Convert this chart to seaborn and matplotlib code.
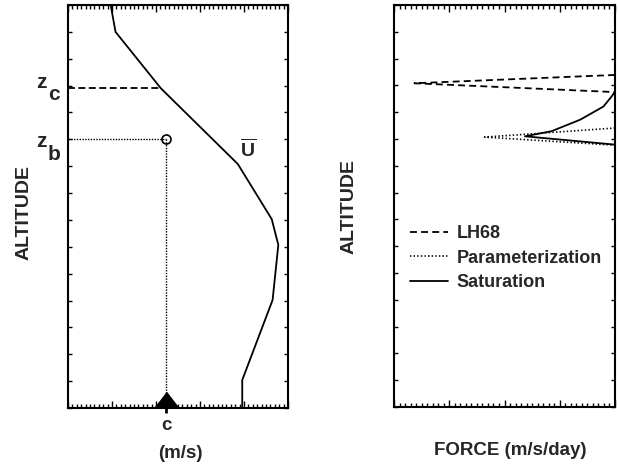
import matplotlib
matplotlib.use('Agg')
import matplotlib.pyplot as plt
from matplotlib.ticker import MultipleLocator
import seaborn as sns

# ---------------- data ----------------
# Left panel: mean wind profile U(z)
u_speed = [9.7, 10.8, 21.1, 38.6, 46.3, 47.8, 46.5, 39.6, 39.6]
u_alt = [15.0, 14.0, 11.9, 9.08, 7.03, 6.07, 4.02, 1.04, 0.0]
c_speed = 22.2      # phase speed c
z_c = 11.9          # critical level
z_b = 10.0          # breaking level
u_at_zc = 21.1

# Right panel: force profiles
lh68_force = [4.0, 0.37, 4.0]
lh68_alt = [12.39, 12.08, 11.75]
param_force = [4.0, 1.64, 4.0]
param_alt = [10.41, 10.07, 9.77]
sat_force = [4.0, 3.94, 3.79, 3.37, 2.85, 2.37, 4.0]
sat_alt = [11.77, 11.59, 11.21, 10.72, 10.29, 10.1, 9.79]
legend_labels = ["LH68", "Parameterization", "Saturation"]

# ---------------- style ----------------
sns.set_style("ticks")
plt.rcParams['font.family'] = ['Liberation Sans', 'DejaVu Sans']
plt.rcParams['mathtext.fontset'] = 'custom'
plt.rcParams['mathtext.bf'] = 'Liberation Sans:bold'
plt.rcParams['mathtext.rm'] = 'Liberation Sans:bold'
plt.rcParams['lines.scale_dashes'] = False

W, H = 618, 468
fig = plt.figure(figsize=(W / 100, H / 100), dpi=100)
fig.patch.set_facecolor('white')

axL = fig.add_axes([68 / W, (H - 408) / H, 220 / W, 403 / H])
axR = fig.add_axes([394 / W, (H - 407) / H, 221 / W, 402 / H])


def ftext(px, py, s, **kw):
    fig.text(px / W, 1 - py / H, s, **kw)


def style_axes(ax, xmajor, xminor):
    ax.set_ylim(0, 15)
    ax.xaxis.set_major_locator(MultipleLocator(xmajor))
    ax.xaxis.set_minor_locator(MultipleLocator(xminor))
    ax.yaxis.set_major_locator(MultipleLocator(1))
    ax.tick_params(axis='both', which='both', direction='in', top=True, right=True,
                   bottom=True, left=True, labelbottom=False, labelleft=False,
                   color='black', width=1.0)
    ax.tick_params(axis='x', which='major', length=5)
    ax.tick_params(axis='x', which='minor', length=2.8)
    ax.tick_params(axis='y', which='major', length=3)
    for sp in ax.spines.values():
        sp.set_visible(True)
        sp.set_color('black')
        sp.set_linewidth(1.5)
    ax.set_xlabel('')
    ax.set_ylabel('')


# ---------------- left panel ----------------
axL.set_xlim(0, 50)
sns.lineplot(x=u_speed, y=u_alt, sort=False, estimator=None, color='black',
             lw=1.3, ax=axL)
axL.plot([0, u_at_zc], [z_c, z_c], color='black', lw=1.3, linestyle=(0, (5, 2.5)))
axL.plot([0, c_speed], [z_b, z_b], color='black', lw=1.0, linestyle=(0, (1, 1)))
axL.plot([c_speed, c_speed], [z_b, 0], color='black', lw=1.0, linestyle=(0, (1, 1)))
axL.plot([c_speed], [z_b], marker='o', ms=6.5, mfc='none', mec='black', mew=1.2)
# arrow marker at c
axL.plot([c_speed], [0.32], marker=[(-1, -0.65), (1, -0.65), (0, 0.65)], ms=16,
         color='black', clip_on=False, zorder=5)
axL.plot([c_speed, c_speed], [0, -0.2], color='black', lw=2, clip_on=False,
         solid_capstyle='butt')
style_axes(axL, 10, 1)

# ---------------- right panel ----------------
axR.set_xlim(0, 4)
sns.lineplot(x=lh68_force, y=lh68_alt, sort=False, estimator=None, color='black',
             lw=1.3, linestyle=(0, (5, 3)), ax=axR, label=legend_labels[0])
sns.lineplot(x=param_force, y=param_alt, sort=False, estimator=None, color='black',
             lw=1.2, linestyle=(0, (1, 1.6)), ax=axR, label=legend_labels[1])
sns.lineplot(x=sat_force, y=sat_alt, sort=False, estimator=None, color='black',
             lw=1.3, ax=axR, label=legend_labels[2])
style_axes(axR, 1, 0.1)
leg = axR.legend(loc='upper left', bbox_to_anchor=(410 / W, 1 - 225 / H),
                 bbox_transform=fig.transFigure, frameon=False,
                 prop={'size': 13, 'weight': 'bold'}, handlelength=2.1,
                 handletextpad=0.5, labelspacing=0.42, borderpad=0, borderaxespad=0)

# ---------------- texts ----------------
ftext(24, 213, 'ALTITUDE', rotation=90, ha='center', va='center', fontsize=14,
      weight='bold')
ftext(349, 207, 'ALTITUDE', rotation=90, ha='center', va='center', fontsize=14,
      weight='bold')
ftext(41.5, 88, 'z', ha='center', va='baseline', fontsize=15, weight='bold')
ftext(54, 100, 'c', ha='center', va='baseline', fontsize=15, weight='bold')
ftext(41.5, 147, 'z', ha='center', va='baseline', fontsize=15, weight='bold')
ftext(54, 160, 'b', ha='center', va='baseline', fontsize=15, weight='bold')
ftext(248, 157, r'$\overline{\mathbf{U}}$', ha='center', va='baseline', fontsize=14)
ftext(166, 430, 'c', ha='center', va='baseline', fontsize=13.5, weight='bold')
ftext(180, 458, '(m/s)', ha='center', va='baseline', fontsize=13.5, weight='bold')
ftext(510, 455, 'FORCE (m/s/day)', ha='center', va='baseline', fontsize=13.5,
      weight='bold')

fig.savefig('out.png', dpi=100, facecolor='white')
